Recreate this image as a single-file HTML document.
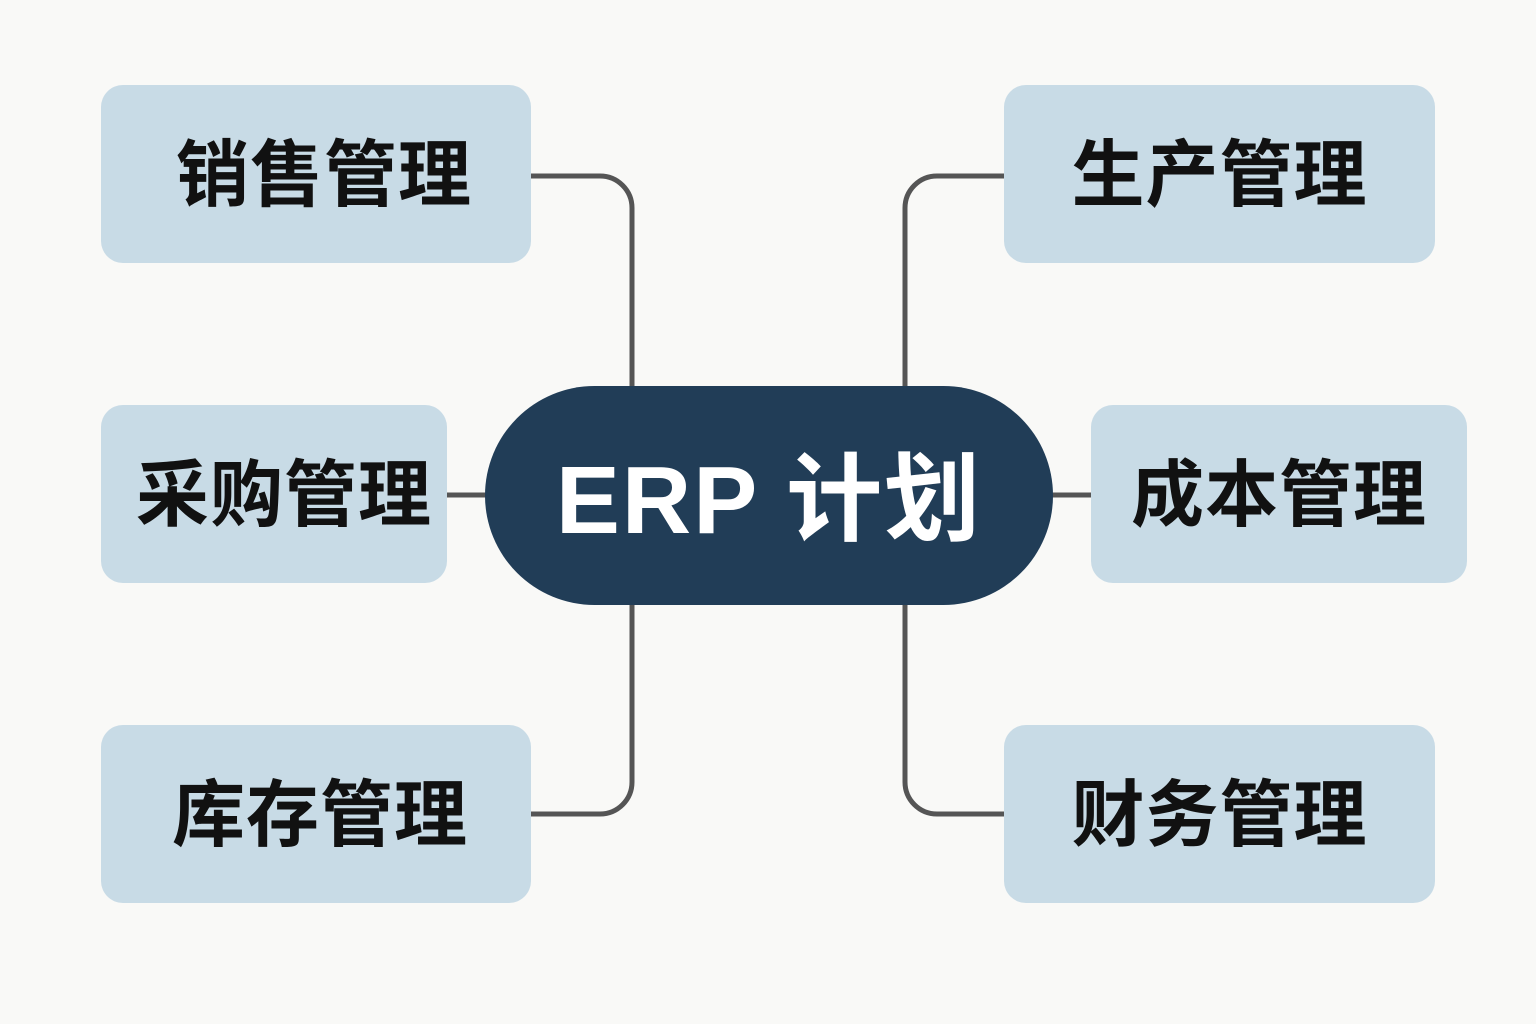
<!DOCTYPE html>
<html><head><meta charset="utf-8"><style>
html,body{margin:0;padding:0;background:#f9f9f7;}
.w{position:relative;width:1536px;height:1024px;overflow:hidden;background:#f9f9f7;}
.b{position:absolute;box-sizing:border-box;padding-bottom:10px;background:#c8dbe6;border-radius:22px;display:flex;align-items:center;justify-content:center;font-family:"Liberation Sans","Noto Sans CJK SC",sans-serif;font-weight:bold;font-size:73px;color:#111;letter-spacing:1px;}
.c{position:absolute;box-sizing:border-box;padding-bottom:8px;left:485px;top:386px;width:568px;height:219px;border-radius:110px;background:#213d57;display:flex;align-items:center;justify-content:center;font-family:"Liberation Sans","Noto Sans CJK SC",sans-serif;font-weight:bold;font-size:96px;color:#fff;letter-spacing:2px;}
svg{position:absolute;left:0;top:0;}
</style></head><body><div class="w">
<svg width="1536" height="1024"><g fill="none" stroke="#555" stroke-width="5">
<path d="M531 176 H600 A32 32 0 0 1 632 208 V388"/>
<path d="M531 814 H600 A32 32 0 0 0 632 782 V603"/>
<path d="M447 495 H487"/>
<path d="M1004 176 H937 A32 32 0 0 0 905 208 V388"/>
<path d="M1004 814 H937 A32 32 0 0 1 905 782 V603"/>
<path d="M1051 495 H1091"/>
</g></svg>
<div class="b" style="left:101px;top:85px;width:430px;height:178px;padding-left:16px;">销售管理</div>
<div class="b" style="left:101px;top:405px;width:346px;height:178px;padding-left:20px;">采购管理</div>
<div class="b" style="left:101px;top:725px;width:430px;height:178px;padding-left:8px;">库存管理</div>
<div class="b" style="left:1004px;top:85px;width:431px;height:178px;">生产管理</div>
<div class="b" style="left:1091px;top:405px;width:376px;height:178px;">成本管理</div>
<div class="b" style="left:1004px;top:725px;width:431px;height:178px;">财务管理</div>
<div class="c">ERP 计划</div>
</div></body></html>
